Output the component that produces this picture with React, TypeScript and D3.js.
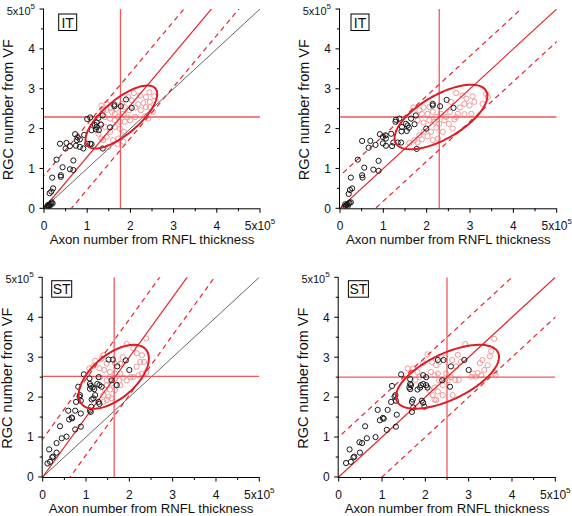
import React from "react";
import * as d3 from "d3";

type Pt = [number, number];

const tickValues = [0, 1, 2, 3, 4, 5];
const minorTickValues = [0.5, 1.5, 2.5, 3.5, 4.5];
const tickLabels = ["0", "1", "2", "3", "4", "5x10"];
const tickExponent = "5";
const xTitle = "Axon number from RNFL thickness";
const yTitle = "RGC number from VF";

const originIT1: Pt[] = [[0.06,0.03],[0.08,0.05],[0.1,0.06],[0.12,0.08],[0.14,0.1],[0.16,0.12],[0.09,0.08],[0.18,0.15],[0.13,0.05],[0.2,0.12]];
const it1Black: Pt[] = [[1.90,2.73],[1.63,2.60],[1.63,2.56],[1.78,2.56],[2.03,2.52],[1.36,2.33],[1.26,2.27],[1.07,2.28],[1.00,2.24],[1.22,2.15],[1.18,2.09],[1.32,2.10],[1.10,1.96],[1.20,1.98],[1.22,2.04],[1.53,2.03],[1.27,1.96],[0.72,1.86],[0.93,1.84],[0.78,1.78],[0.83,1.73],[0.76,1.71],[1.00,1.62],[1.07,1.62],[1.10,1.61],[0.37,1.62],[0.52,1.64],[0.60,1.56],[0.74,1.57],[0.83,1.54],[0.91,1.50],[0.50,1.50],[1.36,1.50],[0.29,1.22],[0.43,1.03],[0.60,0.98],[0.68,1.20],[0.68,0.96],[0.39,0.83],[0.39,0.79],[0.19,0.77],[0.21,0.50],[0.13,0.38],[0.17,0.42], ...originIT1];
const it1Pink: Pt[] = [[2.08,2.89],[2.22,2.83],[2.36,2.79],[2.44,2.91],[2.45,2.67],[2.30,2.64],[2.18,2.61],[2.11,2.53],[2.24,2.46],[2.36,2.54],[2.45,2.54],[2.52,2.42],[2.55,2.81],[2.03,2.71],[1.95,2.79],[1.80,2.62],[1.68,2.50],[1.57,2.42],[1.45,2.47],[1.37,2.46],[1.33,2.58],[1.45,2.62],[1.55,2.52],[1.64,2.37],[1.72,2.29],[1.84,2.37],[1.93,2.28],[1.87,2.17],[1.99,2.21],[2.11,2.29],[1.76,2.17],[1.64,2.21],[1.53,2.25],[1.41,2.29],[1.30,2.12],[1.26,1.87],[1.41,2.04],[1.53,1.92],[1.45,1.79],[1.33,1.75],[1.64,2.04],[1.76,2.00],[1.85,1.92],[1.72,1.75],[1.60,1.71],[1.84,1.67],[1.70,1.61],[1.49,1.54],[1.37,1.71],[1.97,2.46],[1.87,2.54],[2.34,2.31],[2.41,2.25]];

const originIT2: Pt[] = [[0.1,0.04],[0.13,0.06],[0.15,0.08],[0.17,0.1],[0.2,0.12],[0.22,0.14],[0.12,0.1],[0.18,0.06],[0.25,0.15]];
const it2Black: Pt[] = [[2.46,2.72],[2.14,2.62],[2.14,2.58],[2.31,2.56],[2.62,2.52],[1.99,2.00],[1.77,1.49],[1.75,2.33],[1.64,2.25],[1.52,2.12],[1.56,2.08],[1.59,2.02],[1.54,1.94],[1.43,2.04],[1.42,1.93],[1.72,2.11],[1.29,2.22],[1.37,2.25],[1.28,2.17],[1.18,1.87],[1.41,1.65],[1.33,1.65],[1.23,1.65],[1.20,1.56],[0.92,1.86],[0.99,1.79],[1.06,1.75],[1.05,1.83],[0.99,1.63],[1.06,1.57],[0.82,1.59],[0.66,1.52],[0.70,1.69],[0.51,1.69],[0.41,1.22],[0.56,1.02],[0.77,0.97],[0.89,0.94],[0.89,1.19],[0.51,0.83],[0.52,0.77],[0.25,0.77],[0.28,0.50],[0.23,0.46],[0.20,0.36], ...originIT2];
const it2Pink: Pt[] = [[2.68,2.89],[2.83,2.83],[2.92,2.75],[2.87,2.62],[2.99,2.58],[3.06,2.81],[3.10,2.67],[3.37,2.87],[3.41,2.79],[3.29,2.62],[3.03,2.37],[2.87,2.36],[2.72,2.37],[2.56,2.67],[2.54,2.42],[2.45,2.29],[2.33,2.37],[2.22,2.29],[2.14,2.42],[2.06,2.54],[1.93,2.53],[1.83,2.46],[1.69,2.53],[1.89,2.37],[2.02,2.37],[2.06,2.21],[2.18,2.17],[2.29,2.12],[2.41,2.21],[2.51,2.12],[2.60,2.00],[2.64,2.23],[2.22,2.02],[2.10,1.92],[1.93,1.92],[1.83,1.83],[1.72,1.71],[1.79,1.65],[1.89,1.73],[2.02,1.81],[2.14,1.71],[2.26,1.75],[2.37,1.92],[1.93,2.15],[1.79,2.21],[1.60,1.64],[2.77,2.53],[2.68,2.29]];

const st1Black: Pt[] = [[1.52,2.94],[1.62,2.94],[1.92,2.92],[2.00,2.68],[1.72,2.77],[1.29,2.50],[0.95,2.57],[1.59,2.42],[1.71,2.30],[1.08,2.47],[1.09,2.33],[1.11,2.28],[1.15,2.24],[1.26,2.33],[1.31,2.30],[1.36,2.26],[1.19,2.20],[1.09,2.21],[0.82,2.26],[0.86,2.05],[0.85,2.01],[0.88,1.91],[0.77,1.88],[1.21,2.05],[1.17,1.97],[1.13,1.94],[1.29,1.88],[1.31,1.83],[1.12,1.76],[1.09,1.66],[1.11,1.63],[0.59,1.66],[0.75,1.66],[0.67,1.49],[0.68,1.47],[0.61,1.44],[0.88,1.59],[0.40,1.27],[0.75,1.19],[0.88,1.26],[0.55,1.01],[0.44,0.97],[0.32,0.85],[0.15,0.69],[0.32,0.61],[0.24,0.51],[0.22,0.49],[0.11,0.34],[0.17,0.38]];
const st1Pink: Pt[] = [[2.39,3.47],[1.94,3.33],[2.17,3.10],[2.29,3.05],[2.25,2.88],[2.17,2.76],[2.34,2.88],[2.39,2.61],[2.29,2.59],[2.21,2.55],[2.09,2.50],[2.02,2.50],[1.85,3.00],[1.79,2.84],[1.67,2.84],[1.40,3.05],[1.36,2.97],[1.48,2.84],[1.21,2.91],[1.08,2.72],[1.17,2.78],[1.31,2.72],[1.42,2.68],[1.55,2.63],[1.67,2.59],[1.79,2.59],[1.86,2.49],[1.77,2.42],[1.67,2.46],[1.55,2.50],[1.48,2.42],[1.32,2.50],[1.94,2.42],[1.79,2.30],[1.48,2.30],[1.44,2.18],[1.55,2.19],[1.67,2.18],[1.40,2.05],[1.52,2.01],[1.48,1.93],[1.40,1.88],[1.59,1.97],[1.82,2.84],[2.09,3.22],[1.69,2.30],[1.59,2.34]];

const st2Black: Pt[] = [[2.29,2.93],[2.42,2.93],[2.90,2.93],[3.00,2.68],[2.59,2.77],[2.39,2.42],[2.57,2.26],[1.95,2.55],[2.02,2.50],[1.44,2.57],[1.65,2.45],[1.65,2.33],[1.67,2.30],[1.63,2.24],[1.65,2.20],[1.90,2.30],[1.95,2.33],[2.02,2.30],[2.05,2.24],[1.88,2.24],[1.82,2.19],[1.31,2.05],[1.29,2.01],[1.32,1.91],[1.21,1.88],[1.71,1.94],[1.69,1.88],[1.92,1.91],[1.95,1.86],[1.98,1.76],[1.72,1.74],[1.69,1.63],[1.23,2.28],[0.90,1.68],[1.13,1.68],[1.02,1.48],[1.04,1.46],[0.95,1.42],[1.34,1.56],[0.61,1.27],[1.11,1.18],[1.32,1.26],[0.85,1.00],[0.65,0.97],[0.48,0.87],[0.54,0.85],[0.25,0.69],[0.49,0.61],[0.36,0.51],[0.34,0.49],[0.17,0.35],[0.28,0.38]];
const st2Pink: Pt[] = [[2.92,3.33],[2.75,3.06],[2.62,2.93],[2.46,2.99],[2.32,2.88],[2.25,2.80],[2.15,2.88],[2.05,3.07],[1.95,2.85],[1.82,2.63],[1.72,2.72],[1.59,2.72],[1.86,2.50],[1.77,2.43],[2.13,2.63],[2.21,2.55],[2.29,2.59],[2.48,2.59],[2.59,2.50],[2.69,2.43],[2.77,2.43],[2.52,2.42],[2.40,2.30],[2.21,2.24],[2.09,2.18],[2.29,2.14],[2.17,2.05],[2.25,1.93],[2.21,1.94],[2.40,2.05],[2.63,2.05],[2.71,2.77],[2.82,2.89],[3.10,2.59],[3.21,2.60],[3.06,2.51],[3.17,2.51],[3.29,2.55],[3.36,2.68],[3.26,2.85],[3.32,2.93],[3.44,2.80],[3.49,3.02],[3.52,3.15],[3.59,2.61],[3.62,2.56],[2.32,2.42],[3.59,3.46]];

type Ell = { cx: number; cy: number; sx: number; sy: number; rho: number };
type Layout = { x0: number; x1: number; y0: number; y1: number; bx: number; by: number; bw: number };
type PanelProps = {
  id: string; label: string; black: Pt[]; pink: Pt[];
  slope: number; band: number; mx: number; my: number; ell: Ell; identity: boolean; lay: Layout;
};

const RED = "#e5262c";
const CROSS = "#f0585c";
const PINK = "#f29a9c";
const FONT = "'Liberation Sans', Arial, sans-serif";

function Panel(p: PanelProps) {
  const { lay } = p;
  const x = d3.scaleLinear().domain([0, 5]).range([lay.x0, lay.x1]);
  const y = d3.scaleLinear().domain([0, 5]).range([lay.y0, lay.y1]);
  const line = d3.line<Pt>().x(d => x(d[0])).y(d => y(d[1]));
  const seg = (k: number, b: number): Pt[] => [[-1, k * -1 + b], [6, k * 6 + b]];
  const e = p.ell;
  const ellPts: Pt[] = d3.range(0, 2 * Math.PI, Math.PI / 90).map(t => [
    e.cx + e.sx * Math.cos(t),
    e.cy + e.sy * (e.rho * Math.cos(t) + Math.sqrt(1 - e.rho * e.rho) * Math.sin(t)),
  ]);
  const ellPath = d3.line<Pt>().x(d => x(d[0])).y(d => y(d[1])).curve(d3.curveLinearClosed)(ellPts) || "";
  const clipId = "clip-" + p.id;
  return (
    <g>
      <defs>
        <clipPath id={clipId}>
          <rect x={lay.x0} y={lay.y1} width={lay.x1 - lay.x0} height={lay.y0 - lay.y1} />
        </clipPath>
      </defs>
      <g clipPath={`url(#${clipId})`}>
        {p.pink.map((d, i) => (
          <circle key={"p" + i} cx={x(d[0])} cy={y(d[1])} r={2.6} fill="none" stroke={PINK} strokeWidth={1} />
        ))}
        {p.identity && <path d={line([[0, 0], [5, 5]]) || ""} stroke="#666" strokeWidth={1} fill="none" />}
        <line x1={x(p.mx)} x2={x(p.mx)} y1={y(0)} y2={y(5)} stroke={CROSS} strokeWidth={1.3} />
        <line x1={x(0)} x2={x(5)} y1={y(p.my)} y2={y(p.my)} stroke={CROSS} strokeWidth={1.3} />
        <path d={line(seg(p.slope, 0)) || ""} stroke={RED} strokeWidth={1.2} fill="none" />
        <path d={line(seg(p.slope, p.band)) || ""} stroke={RED} strokeWidth={1.2} fill="none" strokeDasharray="5,4" />
        <path d={line(seg(p.slope, -p.band)) || ""} stroke={RED} strokeWidth={1.2} fill="none" strokeDasharray="5,4" />
        {p.black.map((d, i) => (
          <circle key={"b" + i} cx={x(d[0])} cy={y(d[1])} r={2.6} fill="none" stroke="#1a1a1a" strokeWidth={1} />
        ))}
        <path d={ellPath} stroke="#dd1c24" strokeWidth={2} fill="none" />
      </g>
      <line x1={lay.x0} x2={lay.x1} y1={lay.y0 + 0.5} y2={lay.y0 + 0.5} stroke="#000" strokeWidth={1} />
      <line x1={lay.x0 - 0.5} x2={lay.x0 - 0.5} y1={lay.y1} y2={lay.y0 + 0.5} stroke="#000" strokeWidth={1} />
      {tickValues.map((t, i) => (
        <g key={"t" + i}>
          <line x1={x(t)} x2={x(t)} y1={lay.y0} y2={lay.y0 + 4.5} stroke="#000" strokeWidth={1} />
          <line x1={lay.x0 - 4.5} x2={lay.x0} y1={y(t)} y2={y(t)} stroke="#000" strokeWidth={1} />
          <text x={x(t)} y={lay.y0 + 22} textAnchor="middle" fontSize={12} fontFamily={FONT} fill="#111">
            {tickLabels[i]}
            {i === 5 && <tspan dy={-6} fontSize={8}>{tickExponent}</tspan>}
          </text>
          <text x={lay.x0 - 9} y={y(t)} dy={i === 5 ? "0.5em" : "0.36em"} textAnchor="end" fontSize={i === 5 ? 11 : 12} fontFamily={FONT} fill="#111">
            {tickLabels[i]}
            {i === 5 && <tspan dy={-6} fontSize={8}>{tickExponent}</tspan>}
          </text>
        </g>
      ))}
      {minorTickValues.map((t, i) => (
        <g key={"m" + i}>
          <line x1={x(t)} x2={x(t)} y1={lay.y0} y2={lay.y0 + 3} stroke="#000" strokeWidth={1} />
          <line x1={lay.x0 - 3} x2={lay.x0} y1={y(t)} y2={y(t)} stroke="#000" strokeWidth={1} />
        </g>
      ))}
      <text x={(lay.x0 + lay.x1) / 2} y={lay.y0 + 36} textAnchor="middle" fontSize={13.2} fontFamily={FONT} fill="#111">{xTitle}</text>
      <text transform={`translate(${lay.x0 - 31},${(lay.y0 + lay.y1) / 2 + 1}) rotate(-90)`} textAnchor="middle" fontSize={14.5} fontFamily={FONT} fill="#111">{yTitle}</text>
      <rect x={lay.x0 + lay.bx} y={lay.y1 + lay.by} width={lay.bw} height={16.5} fill="#fff" stroke="#000" strokeWidth={1} />
      <text x={lay.x0 + lay.bx + lay.bw / 2} y={lay.y1 + lay.by + 13.5} textAnchor="middle" fontSize={14} fontFamily={FONT} fill="#111">{p.label}</text>
    </g>
  );
}

export default function App() {
  return (
    <svg width={572} height={516} style={{ position: "absolute", left: 0, top: 0, background: "#fff" }}>
      <Panel id="a" label="IT" black={it1Black} pink={it1Pink} slope={1.29} band={0.82} mx={1.77} my={2.29}
        ell={{ cx: 1.79, cy: 2.29, sx: 0.83, sy: 0.79, rho: 0.73 }} identity={true}
        lay={{ x0: 44, x1: 260, y0: 208.3, y1: 9, bx: 14.7, by: 5, bw: 18 }} />
      <Panel id="b" label="IT" black={it2Black} pink={it2Pink} slope={1.0} band={0.82} mx={2.29} my={2.29}
        ell={{ cx: 2.33, cy: 2.29, sx: 1.07, sy: 0.81, rho: 0.65 }} identity={false}
        lay={{ x0: 340, x1: 556.7, y0: 208.3, y1: 9, bx: 11, by: 5, bw: 18 }} />
      <Panel id="c" label="ST" black={st1Black} pink={st1Pink} slope={1.5} band={0.95} mx={1.65} my={2.52}
        ell={{ cx: 1.64, cy: 2.51, sx: 0.81, sy: 0.8, rho: 0.57 }} identity={true}
        lay={{ x0: 42.7, x1: 259.3, y0: 477, y1: 277.3, bx: 9, by: 3.4, bw: 20 }} />
      <Panel id="d" label="ST" black={st2Black} pink={st2Pink} slope={1.0} band={1.0} mx={2.5} my={2.5}
        ell={{ cx: 2.51, cy: 2.51, sx: 1.19, sy: 0.8, rho: 0.62 }} identity={false}
        lay={{ x0: 338.7, x1: 555.3, y0: 477, y1: 277.3, bx: 9.7, by: 3.4, bw: 20 }} />
    </svg>
  );
}
